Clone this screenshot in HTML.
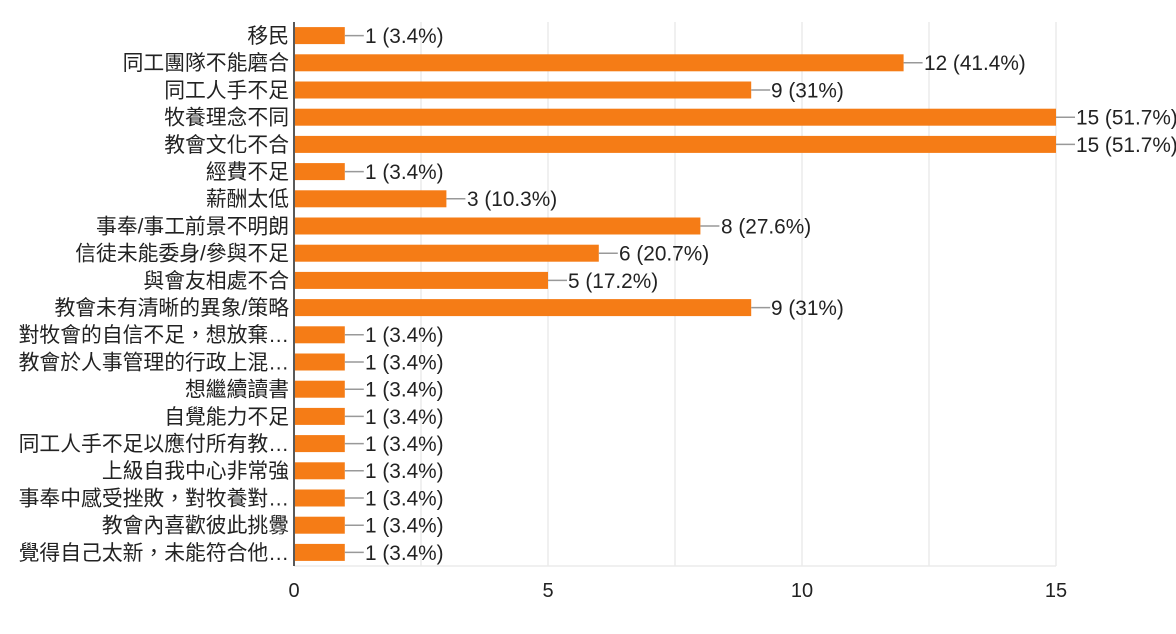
<!DOCTYPE html>
<html><head><meta charset="utf-8"><style>
html,body{margin:0;padding:0;background:#fff;}
svg{display:block;}
text{font-family:"Liberation Sans","Noto Sans CJK TC",sans-serif;fill:#222;}
.l{font-size:20.8px;text-anchor:end;}
.v{font-size:20.8px;}
</style></head><body>
<svg width="1176" height="634" xmlns="http://www.w3.org/2000/svg">
<g stroke="#ebebeb" stroke-width="1.5">
<line x1="421" y1="22" x2="421" y2="566"/>
<line x1="548" y1="22" x2="548" y2="566"/>
<line x1="675" y1="22" x2="675" y2="566"/>
<line x1="802" y1="22" x2="802" y2="566"/>
<line x1="929" y1="22" x2="929" y2="566"/>
<line x1="1056" y1="22" x2="1056" y2="566"/>
<line x1="294" y1="566" x2="1056" y2="566"/>
</g>
<g fill="#f57c16">
<rect x="295" y="27.1" width="49.8" height="17"/>
<rect x="295" y="54.3" width="608.6" height="17"/>
<rect x="295" y="81.5" width="456.2" height="17"/>
<rect x="295" y="108.7" width="761" height="17"/>
<rect x="295" y="135.9" width="761" height="17"/>
<rect x="295" y="163.1" width="49.8" height="17"/>
<rect x="295" y="190.3" width="151.4" height="17"/>
<rect x="295" y="217.5" width="405.4" height="17"/>
<rect x="295" y="244.7" width="303.8" height="17"/>
<rect x="295" y="271.9" width="253" height="17"/>
<rect x="295" y="299.1" width="456.2" height="17"/>
<rect x="295" y="326.3" width="49.8" height="17"/>
<rect x="295" y="353.5" width="49.8" height="17"/>
<rect x="295" y="380.7" width="49.8" height="17"/>
<rect x="295" y="407.9" width="49.8" height="17"/>
<rect x="295" y="435.1" width="49.8" height="17"/>
<rect x="295" y="462.3" width="49.8" height="17"/>
<rect x="295" y="489.5" width="49.8" height="17"/>
<rect x="295" y="516.7" width="49.8" height="17"/>
<rect x="295" y="543.9" width="49.8" height="17"/>
</g>
<g stroke="#999" stroke-width="1.5">
<line x1="344.8" y1="35.6" x2="363.8" y2="35.6"/>
<line x1="903.6" y1="62.8" x2="922.6" y2="62.8"/>
<line x1="751.2" y1="90" x2="770.2" y2="90"/>
<line x1="1056" y1="117.2" x2="1075" y2="117.2"/>
<line x1="1056" y1="144.4" x2="1075" y2="144.4"/>
<line x1="344.8" y1="171.6" x2="363.8" y2="171.6"/>
<line x1="446.4" y1="198.8" x2="465.4" y2="198.8"/>
<line x1="700.4" y1="226" x2="719.4" y2="226"/>
<line x1="598.8" y1="253.2" x2="617.8" y2="253.2"/>
<line x1="548" y1="280.4" x2="567" y2="280.4"/>
<line x1="751.2" y1="307.6" x2="770.2" y2="307.6"/>
<line x1="344.8" y1="334.8" x2="363.8" y2="334.8"/>
<line x1="344.8" y1="362" x2="363.8" y2="362"/>
<line x1="344.8" y1="389.2" x2="363.8" y2="389.2"/>
<line x1="344.8" y1="416.4" x2="363.8" y2="416.4"/>
<line x1="344.8" y1="443.6" x2="363.8" y2="443.6"/>
<line x1="344.8" y1="470.8" x2="363.8" y2="470.8"/>
<line x1="344.8" y1="498" x2="363.8" y2="498"/>
<line x1="344.8" y1="525.2" x2="363.8" y2="525.2"/>
<line x1="344.8" y1="552.4" x2="363.8" y2="552.4"/>
</g>
<g>
<text class="v" x="365" y="43">1 (3.4%)</text>
<text class="v" x="924" y="70.2">12 (41.4%)</text>
<text class="v" x="771" y="97.4">9 (31%)</text>
<text class="v" x="1076" y="124.6">15 (51.7%)</text>
<text class="v" x="1076" y="151.8">15 (51.7%)</text>
<text class="v" x="365" y="179">1 (3.4%)</text>
<text class="v" x="467" y="206.2">3 (10.3%)</text>
<text class="v" x="721" y="233.4">8 (27.6%)</text>
<text class="v" x="619" y="260.6">6 (20.7%)</text>
<text class="v" x="568" y="287.8">5 (17.2%)</text>
<text class="v" x="771" y="315">9 (31%)</text>
<text class="v" x="365" y="342.2">1 (3.4%)</text>
<text class="v" x="365" y="369.4">1 (3.4%)</text>
<text class="v" x="365" y="396.6">1 (3.4%)</text>
<text class="v" x="365" y="423.8">1 (3.4%)</text>
<text class="v" x="365" y="451">1 (3.4%)</text>
<text class="v" x="365" y="478.2">1 (3.4%)</text>
<text class="v" x="365" y="505.4">1 (3.4%)</text>
<text class="v" x="365" y="532.6">1 (3.4%)</text>
<text class="v" x="365" y="559.8">1 (3.4%)</text>
</g>
<g>
<text class="l" x="289" y="43">移民</text>
<text class="l" x="289" y="70.2">同工團隊不能磨合</text>
<text class="l" x="289" y="97.4">同工人手不足</text>
<text class="l" x="289" y="124.6">牧養理念不同</text>
<text class="l" x="289" y="151.8">教會文化不合</text>
<text class="l" x="289" y="179">經費不足</text>
<text class="l" x="289" y="206.2">薪酬太低</text>
<text class="l" x="289" y="233.4">事奉/事工前景不明朗</text>
<text class="l" x="289" y="260.6">信徒未能委身/參與不足</text>
<text class="l" x="289" y="287.8">與會友相處不合</text>
<text class="l" x="289" y="315">教會未有清晰的異象/策略</text>
<text class="l" x="289" y="342.2">對牧會的自信不足，想放棄…</text>
<text class="l" x="289" y="369.4">教會於人事管理的行政上混…</text>
<text class="l" x="289" y="396.6">想繼續讀書</text>
<text class="l" x="289" y="423.8">自覺能力不足</text>
<text class="l" x="289" y="451">同工人手不足以應付所有教…</text>
<text class="l" x="289" y="478.2">上級自我中心非常強</text>
<text class="l" x="289" y="505.4">事奉中感受挫敗，對牧養對…</text>
<text class="l" x="289" y="532.6">教會內喜歡彼此挑釁</text>
<text class="l" x="289" y="559.8">覺得自己太新，未能符合他…</text>
</g>
<line x1="294" y1="22" x2="294" y2="566" stroke="#222" stroke-width="1.5"/>
<g font-size="20" text-anchor="middle">
<text x="294" y="597">0</text><text x="548" y="597">5</text><text x="802" y="597">10</text><text x="1056" y="597">15</text>
</g>
</svg>
</body></html>
